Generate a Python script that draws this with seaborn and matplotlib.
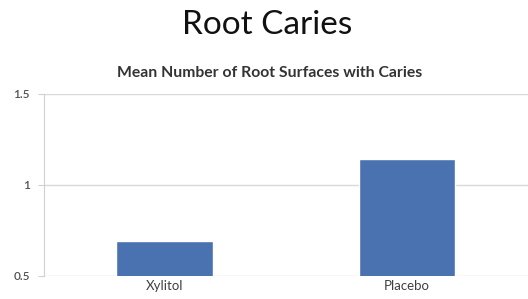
import matplotlib
matplotlib.use("Agg")
import matplotlib.pyplot as plt
import seaborn as sns
import pandas as pd

groups = ["Xylitol", "Placebo"]
mean_surfaces = [0.69, 1.14]
yticks = [0.5, 1.0, 1.5]
ytick_labels = ["0.5", "1", "1.5"]

sns.set_style("white")
plt.rcParams["font.family"] = ["Lato", "DejaVu Sans"]

df = pd.DataFrame({"group": groups, "value": mean_surfaces})

fig = plt.figure(figsize=(5.28, 2.99), dpi=100)
ax = fig.add_axes([0.083, 0.077, 0.917, 0.609])

sns.barplot(data=df, x="group", y="value", color="#4A72B0", width=0.4,
            saturation=1, ax=ax, zorder=3)

ax.set_ylim(0.5, 1.5)
ax.set_xlim(-0.5, 1.5)
ax.set_yticks(yticks)
ax.set_yticklabels(ytick_labels)
ax.grid(axis="y", color="#d9d9d9", linewidth=1, zorder=0)
ax.set_axisbelow(True)

for s in ["top", "right", "bottom"]:
    ax.spines[s].set_visible(False)
ax.spines["left"].set_color("#d0d0d0")
ax.tick_params(axis="y", length=4, color="#d0d0d0", labelsize=8.5,
               labelcolor="#505050", pad=6, left=True)
ax.tick_params(axis="x", length=0, labelsize=9.5, labelcolor="#404040", pad=3)
for lbl in ax.get_yticklabels():
    lbl.set_fontweight("semibold")
ax.set_xlabel("")
ax.set_ylabel("")

fig.text(0.505, 0.915, "Root Caries", ha="center", va="center",
         fontsize=24, color="#111111")
fig.text(0.51, 0.757, "Mean Number of Root Surfaces with Caries",
         ha="center", va="center", fontsize=11.3, fontweight="bold",
         color="#333333")

fig.savefig("out.png", dpi=100, facecolor="white")
